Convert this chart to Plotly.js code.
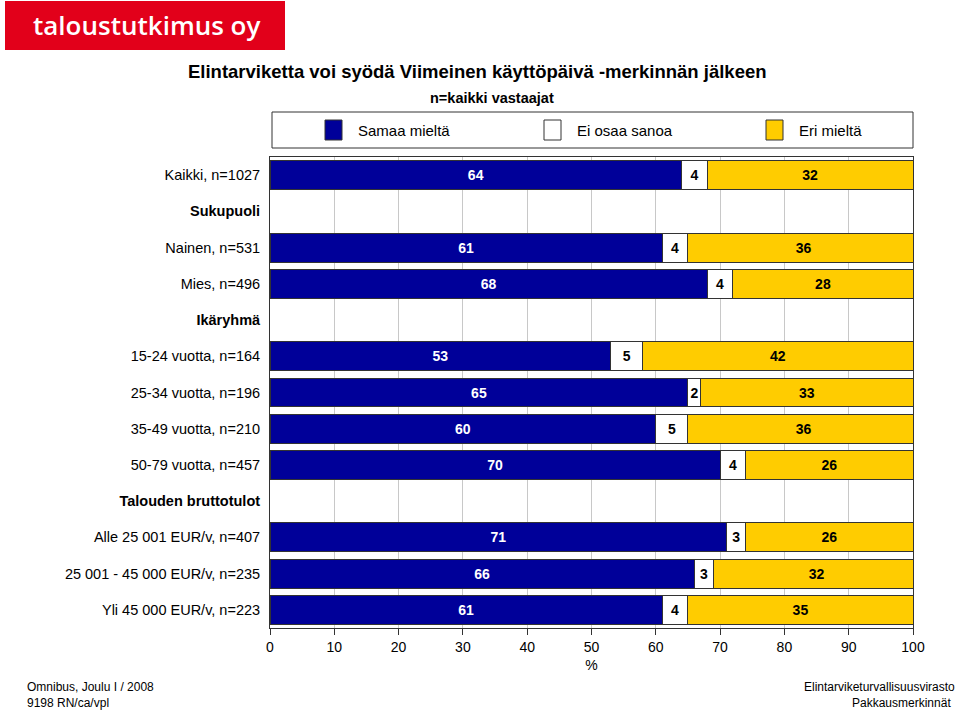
<!DOCTYPE html>
<html>
<head>
<meta charset="utf-8">
<script src="https://cdn.plot.ly/plotly-3.0.1.min.js"></script>
<style>html,body{margin:0;padding:0;background:#fff;}#chart{width:960px;height:712px;}</style>
</head>
<body>
<div id="chart"></div>
<script>
const categories = ['Kaikki, n=1027','<b>Sukupuoli</b>','Nainen, n=531','Mies, n=496','<b>Ikäryhmä</b>','15-24 vuotta, n=164','25-34 vuotta, n=196','35-49 vuotta, n=210','50-79 vuotta, n=457','<b>Talouden bruttotulot</b>','Alle 25 001 EUR/v, n=407','25 001 - 45 000 EUR/v, n=235','Yli 45 000 EUR/v, n=223'];
const seriesNames = ['Samaa mieltä','Ei osaa sanoa','Eri mieltä'];
const agree    = [64,null,61,68,null,53,65,60,70,null,71,66,61];
const dontKnow = [4,null,4,4,null,5,2,5,4,null,3,3,4];
const disagree = [32,null,36,28,null,42,33,36,26,null,26,32,35];
const xTicks = [0,10,20,30,40,50,60,70,80,90,100];

const colors = ['#000099','#FFFFFF','#FFCC00'];
const textColors = ['#FFFFFF','#000000','#000000'];
const values = [agree, dontKnow, disagree];
const FONT = 'Liberation Sans, Arial, sans-serif';

const traces = values.map((v,i)=>({
  type:'bar', orientation:'h', name:seriesNames[i],
  x:v, y:categories,
  marker:{color:colors[i], line:{color:'#333333', width:1}},
  text:v.map(d=>d===null?'':String(d)),
  textposition:'inside', insidetextanchor:'middle', textangle:0,
  constraintext:'none',
  textfont:{family:FONT, size:14, color:textColors[i], weight:'bold'},
  hoverinfo:'skip', showlegend:false
}));

// pixel -> paper helpers (plot area 270..913 x, 157..628 y)
const L=270, R=913, T=157, B=628;
const px = x => (x-L)/(R-L);
const py = y => (B-y)/(B-T);

const shapes = [
  // logo
  {type:'rect', xref:'paper', yref:'paper', x0:px(5), x1:px(285), y0:py(50), y1:py(1), fillcolor:'#E2001A', line:{width:0}, layer:'above'},
  // legend box
  {type:'rect', xref:'paper', yref:'paper', x0:px(272), x1:px(913), y0:py(148), y1:py(112), fillcolor:'rgba(0,0,0,0)', line:{color:'#333333', width:1}}
];
const legendX = [325, 544, 766];
const annotations = [
  {xref:'paper', yref:'paper', x:px(146), y:py(25), text:'taloustutkimus oy', showarrow:false, font:{family:'Open Sans, sans-serif', size:26, weight:600, color:'#FFFFFF'}, xanchor:'center', yanchor:'middle'},
  {xref:'paper', yref:'paper', x:px(477), y:py(71), text:'<b>Elintarviketta voi syödä Viimeinen käyttöpäivä -merkinnän jälkeen</b>', showarrow:false, font:{family:FONT, size:18.5, color:'#000'}, xanchor:'center', yanchor:'middle'},
  {xref:'paper', yref:'paper', x:px(492), y:py(98), text:'<b>n=kaikki vastaajat</b>', showarrow:false, font:{family:FONT, size:14.5, color:'#000'}, xanchor:'center', yanchor:'middle'},
  {xref:'paper', yref:'paper', x:px(25), y:py(687), text:'Omnibus, Joulu I / 2008', showarrow:false, font:{family:FONT, size:12, color:'#000'}, xanchor:'left', yanchor:'middle'},
  {xref:'paper', yref:'paper', x:px(25), y:py(703), text:'9198 RN/ca/vpl', showarrow:false, font:{family:FONT, size:12, color:'#000'}, xanchor:'left', yanchor:'middle'},
  {xref:'paper', yref:'paper', x:px(957), y:py(687), text:'Elintarviketurvallisuusvirasto', showarrow:false, font:{family:FONT, size:12, color:'#000'}, xanchor:'right', yanchor:'middle'},
  {xref:'paper', yref:'paper', x:px(953), y:py(703), text:'Pakkausmerkinnät', showarrow:false, font:{family:FONT, size:12, color:'#000'}, xanchor:'right', yanchor:'middle'}
];
seriesNames.forEach((n,i)=>{
  shapes.push({type:'rect', xref:'paper', yref:'paper', x0:px(legendX[i]), x1:px(legendX[i]+17), y0:py(140), y1:py(120), fillcolor:colors[i], line:{color:'#333333', width:1}});
  annotations.push({xref:'paper', yref:'paper', x:px(legendX[i]+31), y:py(130), text:n, showarrow:false, font:{family:FONT, size:15, color:'#000'}, xanchor:'left', yanchor:'middle'});
});

const layout = {
  width:960, height:712,
  margin:{l:L, r:960-R, t:T, b:712-B, pad:0},
  paper_bgcolor:'#fff', plot_bgcolor:'#fff',
  barmode:'stack', bargap:0.2,
  showlegend:false,
  font:{family:FONT, size:14, color:'#000'},
  xaxis:{range:[0,100], tickvals:xTicks, ticktext:xTicks.map(String), showgrid:true, gridcolor:'#C8C8C8', gridwidth:1,
    showline:true, linecolor:'#333333', linewidth:1, mirror:true, ticks:'outside', ticklen:6, tickcolor:'#333333',
    tickfont:{family:FONT, size:14}, zeroline:false, fixedrange:true,
    title:{text:'%', font:{family:FONT, size:14}, standoff:6}},
  yaxis:{type:'category', autorange:'reversed', showgrid:false, showline:true, linecolor:'#333333', linewidth:1, mirror:true,
    ticks:'', tickfont:{family:FONT, size:14.5}, ticklabelstandoff:6, fixedrange:true},
  shapes:shapes, annotations:annotations
};

Plotly.newPlot('chart', traces, layout, {displayModeBar:false, staticPlot:true});
</script>
</body>
</html>
